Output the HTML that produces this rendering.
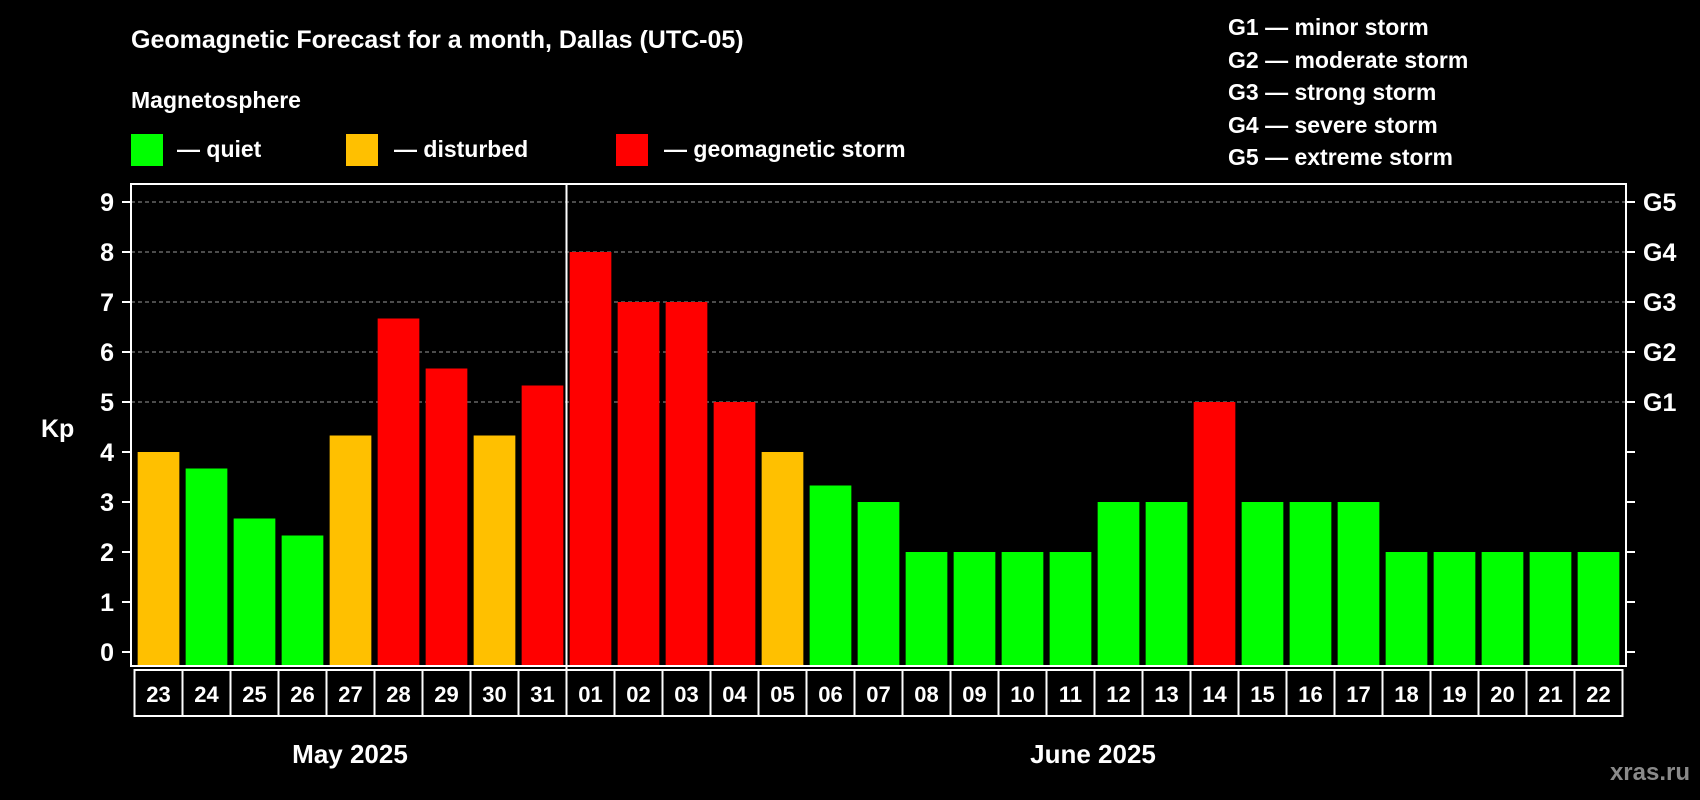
<!DOCTYPE html>
<html><head><meta charset="utf-8"><style>
html,body{margin:0;padding:0;background:#000;}
svg{display:block;}
text{font-family:"Liberation Sans",Arial,sans-serif;font-weight:bold;fill:#fff;}
</style></head><body>
<svg id="chart" width="1700" height="800" viewBox="0 0 1700 800">
<text x="131" y="48" font-size="25">Geomagnetic Forecast for a month, Dallas (UTC-05)</text>
<text x="131" y="108" font-size="23">Magnetosphere</text>
<g>
<rect x="131" y="134" width="32" height="32" fill="#00ff00"/>
<text x="177" y="157" font-size="23">— quiet</text>
<rect x="346" y="134" width="32" height="32" fill="#ffc000"/>
<text x="394" y="157" font-size="23">— disturbed</text>
<rect x="616" y="134" width="32" height="32" fill="#ff0000"/>
<text x="664" y="157" font-size="23">— geomagnetic storm</text>
</g>
<g font-size="23">
<text x="1228" y="35">G1 — minor storm</text>
<text x="1228" y="68">G2 — moderate storm</text>
<text x="1228" y="100">G3 — strong storm</text>
<text x="1228" y="133">G4 — severe storm</text>
<text x="1228" y="165">G5 — extreme storm</text>
</g>
<text x="41" y="437" font-size="25">Kp</text>
<g id="grid"></g><g id="bars"></g><g id="axes"></g>
<text x="350" y="763" font-size="26" text-anchor="middle">May 2025</text>
<text x="1093" y="763" font-size="26" text-anchor="middle">June 2025</text>
<text x="1690" y="780" font-size="24" text-anchor="end" style="fill:#8a8a8a">xras.ru</text>
</svg>
<script>
const days = ["23","24","25","26","27","28","29","30","31","01","02","03","04","05","06","07","08","09","10","11","12","13","14","15","16","17","18","19","20","21","22"];
const kpValues = [4,3.67,2.67,2.33,4.33,6.67,5.67,4.33,5.33,8,7,7,5,4,3.33,3,2,2,2,2,3,3,5,3,3,3,2,2,2,2,2];
const yTicks = [0,1,2,3,4,5,6,7,8,9];
const gLabels = ["G1","G2","G3","G4","G5"];
const gLevels = [5,6,7,8,9];
const monthSplitIndex = 9;

const NS="http://www.w3.org/2000/svg";
const L=131,R=1626,T=184,B=666,Y0=652,UNIT=50,X0=134.5,SLOT=(1622.5-134.5)/days.length,BW=41.7;
const y=v=>Y0-v*UNIT;
const x=i=>X0+i*SLOT;
function mk(tag,attrs,parent){const e=document.createElementNS(NS,tag);for(const k in attrs)e.setAttribute(k,attrs[k]);parent.appendChild(e);return e;}
const grid=document.getElementById('grid'),bars=document.getElementById('bars'),axes=document.getElementById('axes');
gLevels.forEach((v,i)=>{
  const g=mk('line',{x1:L,x2:R,y1:y(v),y2:y(v),stroke:'#999','stroke-width':1,'stroke-dasharray':'4,3'},grid);
  
  
  const t=mk('text',{x:1643,y:y(v)+9,'font-size':25},axes);t.textContent=gLabels[i];
  
  
});
kpValues.forEach((v,i)=>{
  const c=v>=5?'#ff0000':(v>=4?'#ffc000':'#00ff00');
  const r=mk('rect',{x:x(i)+(SLOT-BW)/2,y:y(v),width:BW,height:B-y(v),fill:c},bars);
  
  
  const b=mk('rect',{x:x(i),y:B+4,width:SLOT,height:46,fill:'none',stroke:'#fff','stroke-width':2},axes);
  
  
  const t=mk('text',{x:x(i)+SLOT/2,y:B+36,'font-size':22,'text-anchor':'middle'},axes);t.textContent=days[i];
  
  
});
const fr=mk('rect',{x:L,y:T,width:R-L,height:B-T,fill:'none',stroke:'#fff','stroke-width':2},axes);


const dv=mk('line',{x1:x(monthSplitIndex),x2:x(monthSplitIndex),y1:T,y2:B+50,stroke:'#fff','stroke-width':2},axes);


yTicks.forEach(v=>{
  const a=mk('line',{x1:L-9,x2:L,y1:y(v),y2:y(v),stroke:'#fff','stroke-width':2},axes);
  
  
  const b=mk('line',{x1:R,x2:R+9,y1:y(v),y2:y(v),stroke:'#fff','stroke-width':2},axes);
  
  
  const t=mk('text',{x:114,y:y(v)+9,'font-size':25,'text-anchor':'end'},axes);t.textContent=v;
  
  
});
</script>
</body></html>
